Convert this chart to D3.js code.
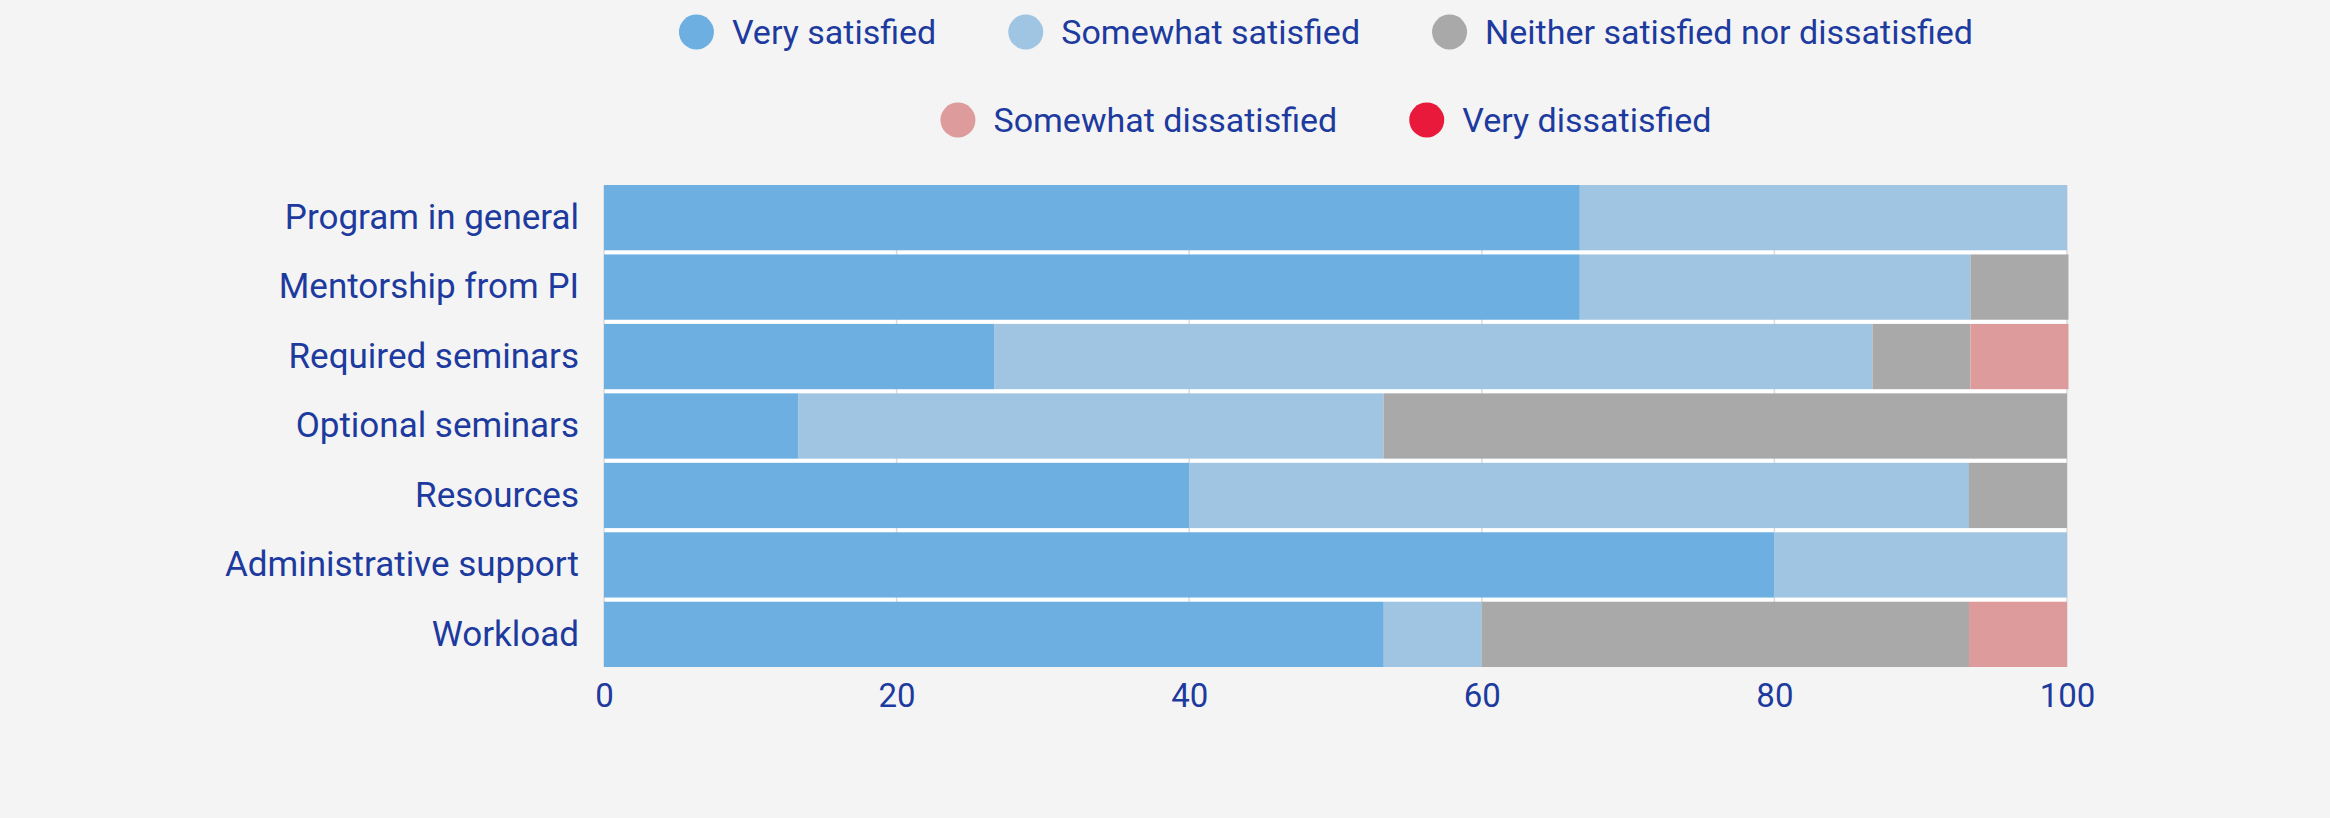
<!DOCTYPE html>
<html>
<head>
<meta charset="utf-8">
<script src="https://cdn.jsdelivr.net/npm/d3@7"></script>
<style>
  body { margin: 0; background: #f4f4f4; }
  text { font-family: Roboto, sans-serif; }
</style>
</head>
<body>
<div id="chart"></div>
<script>
// categories (top to bottom)
var categories = [
  "Program in general",
  "Mentorship from PI",
  "Required seminars",
  "Optional seminars",
  "Resources",
  "Administrative support",
  "Workload"
];

// response levels
var series = [
  "Very satisfied",
  "Somewhat satisfied",
  "Neither satisfied nor dissatisfied",
  "Somewhat dissatisfied",
  "Very dissatisfied"
];

// percentage per category for each level
var verySatisfied        = [66.7, 66.7, 26.7, 13.3, 40.0, 80.0, 53.3];
var somewhatSatisfied    = [33.3, 26.7, 60.0, 40.0, 53.3, 20.0, 6.7];
var neither              = [0, 6.7, 6.7, 46.7, 6.7, 0, 33.3];
var somewhatDissatisfied = [0, 0, 6.7, 0, 0, 0, 6.7];
var veryDissatisfied     = [0, 0, 0, 0, 0, 0, 0];

var xTicks = [0, 20, 40, 60, 80, 100];

var colors = ["#6cafe0", "#a0c5e2", "#a9a9a9", "#dd9b9b", "#e8193a"];
var textColor = "#1d3a9e";

var values = [verySatisfied, somewhatSatisfied, neither, somewhatDissatisfied, veryDissatisfied];

// table for the stack layout
var data = categories.map(function (c, i) {
  var row = { category: c };
  series.forEach(function (s, j) { row[s] = values[j][i]; });
  return row;
});

var totalW = 2330, totalH = 818;
var margin = { top: 185, right: 263, bottom: 151, left: 604 },
  width = totalW - margin.left - margin.right,
  height = totalH - margin.top - margin.bottom;

var svg = d3.select("#chart")
  .append("svg")
  .attr("width", totalW)
  .attr("height", totalH);

var g = svg.append("g")
  .attr("transform", "translate(" + margin.left + "," + margin.top + ")");

var x = d3.scaleLinear().domain([0, 100]).range([0, width]);
var y = d3.scaleBand().domain(categories).range([0, height]).paddingInner(0.06).paddingOuter(0);

// plot background and grid
g.append("rect")
  .attr("width", width)
  .attr("height", height)
  .attr("fill", "#ffffff");

g.selectAll(".grid")
  .data(xTicks)
  .enter()
  .append("line")
  .attr("x1", function (d) { return x(d); })
  .attr("x2", function (d) { return x(d); })
  .attr("y1", 0)
  .attr("y2", height)
  .attr("stroke", "#dcdcdc")
  .attr("stroke-width", 1.5);

// stacked bars
var stacked = d3.stack().keys(series)(data);

g.append("g")
  .selectAll("g")
  .data(stacked)
  .enter()
  .append("g")
  .attr("fill", function (d, i) { return colors[i]; })
  .selectAll("rect")
  .data(function (d) { return d; })
  .enter()
  .append("rect")
  .attr("x", function (d) { return x(d[0]); })
  .attr("y", function (d) { return y(d.data.category); })
  .attr("width", function (d) { return x(d[1]) - x(d[0]); })
  .attr("height", y.bandwidth());

// y axis labels
var yAxis = g.append("g")
  .call(d3.axisLeft(y).tickSize(0).tickPadding(25));
yAxis.select(".domain").remove();
yAxis.selectAll("text")
  .attr("fill", textColor)
  .style("font-size", "35px")
  .style("font-family", "Roboto, sans-serif");

// x axis labels
var xAxis = g.append("g")
  .attr("transform", "translate(0," + height + ")")
  .call(d3.axisBottom(x).tickValues(xTicks).tickSize(0).tickPadding(17));
xAxis.select(".domain").remove();
xAxis.selectAll("text")
  .attr("fill", textColor)
  .style("font-size", "33px")
  .style("font-family", "Roboto, sans-serif");

// legend, two centred rows
var legendRows = [[0, 1, 2], [3, 4]];
var legendY = [32, 120];
var legendCenter = 1326, r = 17.5, textGap = 18, itemGap = 72;

legendRows.forEach(function (row, ri) {
  var lg = svg.append("g");
  var items = lg.selectAll("g")
    .data(row)
    .enter()
    .append("g");
  items.append("circle")
    .attr("r", r)
    .attr("cx", r)
    .attr("cy", 0)
    .attr("fill", function (d) { return colors[d]; });
  items.append("text")
    .attr("x", 2 * r + textGap)
    .attr("y", 0)
    .attr("dy", "0.35em")
    .attr("fill", textColor)
    .style("font-size", "34px")
    .text(function (d) { return series[d]; });

  var offsets = [], pos = 0;
  items.each(function () {
    offsets.push(pos);
    pos += this.getBBox().width + itemGap;
  });
  var rowW = pos - itemGap;
  items.attr("transform", function (d, i) { return "translate(" + offsets[i] + ",0)"; });
  lg.attr("transform", "translate(" + (legendCenter - rowW / 2) + "," + legendY[ri] + ")");
});
</script>
</body>
</html>
